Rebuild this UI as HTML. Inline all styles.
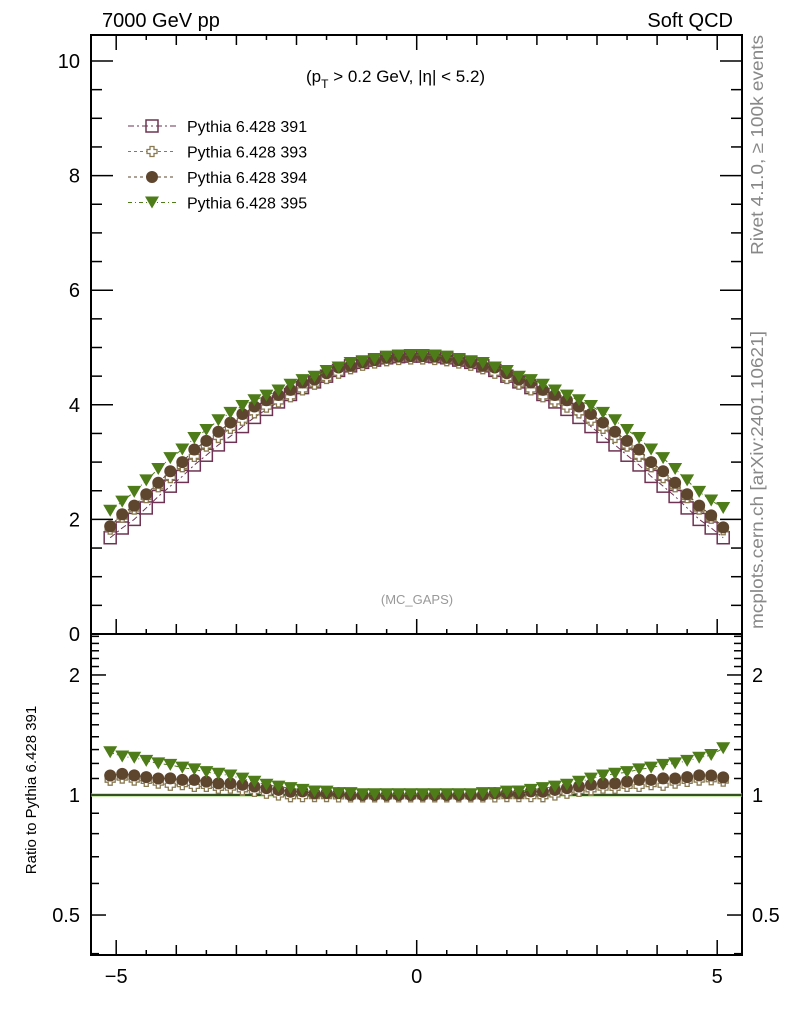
<!DOCTYPE html>
<html><head><meta charset="utf-8"><style>
body{margin:0;background:#fff;}
svg{display:block;font-family:"Liberation Sans",sans-serif;}
</style></head><body>
<svg id="chart" width="786" height="1024" xmlns="http://www.w3.org/2000/svg">
<text x="102" y="27" font-size="20">7000 GeV pp</text>
<text x="733" y="27" font-size="20" text-anchor="end">Soft QCD</text>
<text transform="translate(763,145) rotate(-90)" font-size="17.5" fill="#888" text-anchor="middle" textLength="220" lengthAdjust="spacingAndGlyphs">Rivet 4.1.0, ≥ 100k events</text>
<text transform="translate(763,480) rotate(-90)" font-size="17.5" fill="#888" text-anchor="middle" textLength="298" lengthAdjust="spacingAndGlyphs">mcplots.cern.ch [arXiv:2401.10621]</text>
<text x="306" y="82" font-size="17">(p<tspan font-size="12" dy="6">T</tspan><tspan dy="-6"> &gt; 0.2 GeV, |η| &lt; 5.2)</tspan></text>
<text x="417" y="604" font-size="13" fill="#999" text-anchor="middle">(MC_GAPS)</text>
<text transform="translate(36,790) rotate(-90)" font-size="15" text-anchor="middle">Ratio to Pythia 6.428 391</text>
<g id="plot"></g>
<g id="legend"></g>
</svg>
<script>
const xCenters = [-5.1,-4.9,-4.7,-4.5,-4.3,-4.1,-3.9,-3.7,-3.5,-3.3,-3.1,-2.9,-2.7,-2.5,-2.3,-2.1,-1.9,-1.7,-1.5,-1.3,-1.1,-0.9,-0.7,-0.5,-0.3,-0.1,0.1,0.3,0.5,0.7,0.9,1.1,1.3,1.5,1.7,1.9,2.1,2.3,2.5,2.7,2.9,3.1,3.3,3.5,3.7,3.9,4.1,4.3,4.5,4.7,4.9,5.1];
const s391 = [1.68,1.85,2.00,2.20,2.40,2.58,2.75,2.95,3.12,3.30,3.45,3.62,3.78,3.92,4.05,4.18,4.30,4.40,4.50,4.60,4.68,4.74,4.78,4.82,4.84,4.85,4.85,4.84,4.82,4.78,4.74,4.68,4.60,4.50,4.40,4.30,4.18,4.05,3.92,3.78,3.62,3.45,3.30,3.12,2.95,2.75,2.58,2.40,2.20,2.00,1.85,1.68];
const s393 = [1.83,2.04,2.18,2.38,2.57,2.73,2.92,3.10,3.28,3.43,3.59,3.73,3.86,3.96,4.05,4.14,4.26,4.36,4.46,4.55,4.63,4.69,4.73,4.77,4.79,4.80,4.80,4.79,4.77,4.73,4.69,4.63,4.55,4.46,4.36,4.26,4.14,4.05,3.96,3.86,3.73,3.59,3.43,3.28,3.10,2.92,2.73,2.57,2.38,2.18,2.02,1.82];
const s394 = [1.88,2.09,2.24,2.44,2.64,2.84,3.00,3.22,3.37,3.53,3.69,3.84,3.97,4.08,4.17,4.26,4.39,4.44,4.55,4.65,4.68,4.74,4.78,4.82,4.84,4.85,4.85,4.84,4.82,4.78,4.74,4.68,4.65,4.55,4.44,4.39,4.26,4.17,4.08,3.97,3.84,3.69,3.53,3.37,3.22,3.00,2.84,2.64,2.44,2.24,2.07,1.86];
const s395 = [2.15,2.31,2.48,2.68,2.88,3.07,3.22,3.42,3.56,3.73,3.86,3.98,4.08,4.16,4.25,4.35,4.43,4.49,4.59,4.65,4.73,4.76,4.80,4.84,4.86,4.87,4.87,4.86,4.84,4.80,4.76,4.73,4.65,4.59,4.49,4.43,4.35,4.25,4.16,4.08,3.98,3.86,3.73,3.56,3.42,3.22,3.07,2.88,2.68,2.48,2.33,2.20];
const mainYTicks = [0,2,4,6,8,10];
const ratioYTicks = [0.5,1,2];
const xTicks = [-5,0,5];
const seriesNames = ["Pythia 6.428 391","Pythia 6.428 393","Pythia 6.428 394","Pythia 6.428 395"];

const NS="http://www.w3.org/2000/svg";
const L=91,R=742,T=35,MB=634,B=955;
const xs=v=>416.7+v*60.1;
const ym=v=>634-v*57.3;
const yr=r=>795-Math.log10(r)*398.7;
const plot=document.getElementById('plot');
function mk(tag,attrs,parent){const e=document.createElementNS(NS,tag);for(const k in attrs)e.setAttribute(k,attrs[k]);(parent||plot).appendChild(e);return e;}
function line(x1,y1,x2,y2,w,c,p){return mk('line',{x1,y1,x2,y2,stroke:c||'#000','stroke-width':w||1},p);}

let f1=mk('rect',{x:L,y:T,width:R-L,height:MB-T,fill:'none',stroke:'#000','stroke-width':2});


let f2=mk('rect',{x:L,y:MB,width:R-L,height:B-MB,fill:'none',stroke:'#000','stroke-width':2});



for(let i=-10;i<=10;i++){const v=i/2;const x=xs(v);
 let len=(i%10===0)?15:(i%2===0?10:5);
 for(const [y0,dir] of [[MB,-1],[B,-1],[T,1]]){line(x,y0,x,y0+dir*len,1.5);}
}
for(const v of xTicks){const t=mk('text',{x:xs(v),y:983,'font-size':20,'text-anchor':'middle'});t.textContent=v<0?'−'+Math.abs(v):String(v);
 
 }
for(let i=0;i<=20;i++){const v=i/2;const y=ym(v);if(y<T)continue;const len=(i%4===0)?22:11;line(L,y,L+len,y,1.5);line(R,y,R-len,y,1.5);}
for(const v of mainYTicks){const t=mk('text',{x:80,y:ym(v)+7,'font-size':20,'text-anchor':'end'});t.textContent=String(v);
 
 }
const rMinor=[0.4,0.5,0.6,0.7,0.8,0.9,1,1.1,1.2,1.3,1.4,1.5,1.6,1.7,1.8,1.9,2,2.1,2.2,2.3,2.4,2.5];
for(const r of rMinor){const y=yr(r);if(y<MB||y>B)continue;const maj=ratioYTicks.includes(r);const len=maj?15:8;line(L,y,L+len,y,1.5);line(R,y,R-len,y,1.5);}
for(const r of ratioYTicks){const y=yr(r)+7;
 const t=mk('text',{x:80,y,'font-size':20,'text-anchor':'end'});t.textContent=String(r);
 
 
 const t2=mk('text',{x:752,y,'font-size':20});t2.textContent=String(r);
 
 }
line(L,yr(1),R,yr(1),3,'#8fd45a');
line(L,yr(1),R,yr(1),1.2,'#000');

const styles=[
 {c:'#6e3352',m:'square',dash:'6,3,2,3'},
 {c:'#8a7a52',m:'cross',dash:'3,3'},
 {c:'#5e452d',m:'circle',dash:'3,3'},
 {c:'#4d7c19',m:'tri',dash:'4,3,1,3'}];
const series=[s391,s393,s394,s395];

function marker(type,x,y,c,g){
 if(type==='square')mk('rect',{x:x-6,y:y-6,width:12,height:12,fill:'none',stroke:c,'stroke-width':1.5},g);
 else if(type==='cross')mk('path',{d:`M${x-2},${y-5}h4v3h3v4h-3v3h-4v-3h-3v-4h3z`,fill:'#fff',stroke:c,'stroke-width':1.3},g);
 else if(type==='circle')mk('circle',{cx:x,cy:y,r:6,fill:c},g);
 else mk('path',{d:`M${x-7},${y-6}L${x+7},${y-6}L${x},${y+6}Z`,fill:c},g);
}
series.forEach((s,k)=>{
 const st=styles[k];
 const g=mk('g',{});
 
 
 const gr=mk('g',{});
 
 
 mk('polyline',{points:xCenters.map((x,i)=>xs(x)+','+ym(s[i])).join(' '),fill:'none',stroke:st.c,'stroke-width':1,'stroke-dasharray':st.dash},g);
 if(k>0)mk('polyline',{points:xCenters.map((x,i)=>xs(x)+','+yr(s[i]/s391[i])).join(' '),fill:'none',stroke:st.c,'stroke-width':1,'stroke-dasharray':st.dash},gr);
 xCenters.forEach((x,i)=>{
  marker(st.m,xs(x),ym(s[i]),st.c,g);
  if(k>0)marker(st.m,xs(x),yr(s[i]/s391[i]),st.c,gr);
 });
});
const leg=document.getElementById('legend');
seriesNames.forEach((n,k)=>{
 const y=126+k*25.5;const st=styles[k];
 const g=mk('g',{},leg);
 
 
 line(128,y,176,y,1,st.c,g).setAttribute('stroke-dasharray',st.dash);
 marker(st.m,152,y,st.c,g);
 const t=mk('text',{x:187,y:y+6,'font-size':16},g);t.textContent=n;
});
</script>
</body></html>
